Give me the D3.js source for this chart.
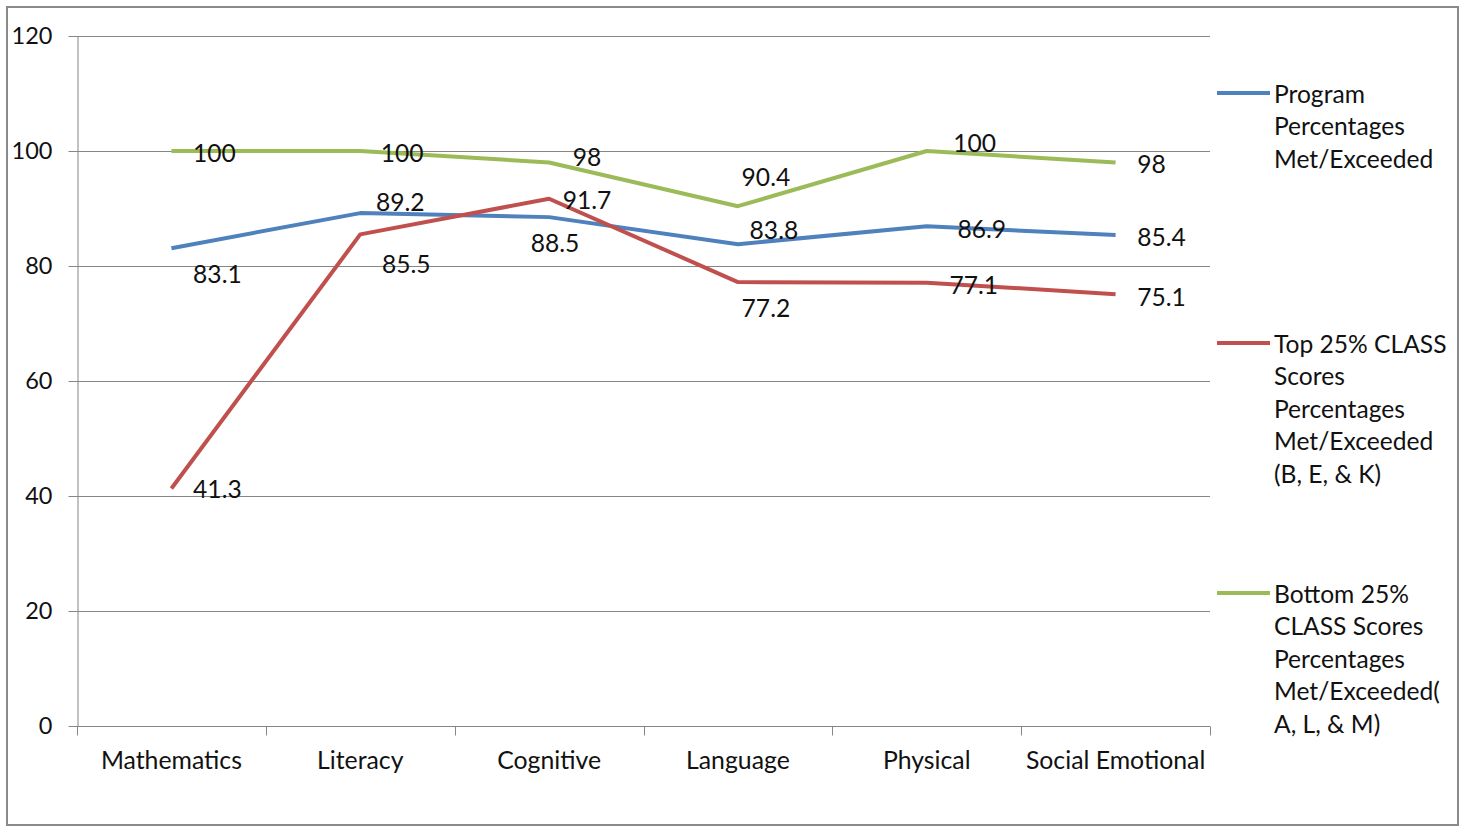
<!DOCTYPE html>
<html>
<head>
<meta charset="utf-8">
<script src="https://cdnjs.cloudflare.com/ajax/libs/d3/7.8.5/d3.min.js"></script>
<style>
  html, body { margin: 0; padding: 0; background: #fff; }
  svg { display: block; }
  text { font-family: Lato, "Open Sans", sans-serif; fill: #111; }
</style>
</head>
<body>
<svg id="chart" width="1463" height="827"></svg>
<script>
// Domains rated in the review
const categories = ["Mathematics", "Literacy", "Cognitive", "Language", "Physical", "Social Emotional"];

// Percentages met/exceeded per domain
const programValues = [83.1, 89.2, 88.5, 83.8, 86.9, 85.4];
const top25Values = [41.3, 85.5, 91.7, 77.2, 77.1, 75.1];
const bottom25Values = [100, 100, 98, 90.4, 100, 98];

const yTicks = [0, 20, 40, 60, 80, 100, 120];

const seriesNames = [
  ["Program", "Percentages", "Met/Exceeded"],
  ["Top 25% CLASS", "Scores", "Percentages", "Met/Exceeded", "(B, E, & K)"],
  ["Bottom 25%", "CLASS Scores", "Percentages", "Met/Exceeded(", "A, L, & M)"]
];
const seriesColors = ["#4F81BD", "#C0504D", "#9BBB59"];

// Data-label nudges (dx, dy from each point) so labels don't collide
const programLabelOffsets = [[46, 25], [40, -12], [6, 25], [36, -15], [55, 2], [46, 2]];
const top25LabelOffsets = [[46, 0], [46, 29], [38, 1], [28, 25], [47, 2], [46, 2]];
const bottom25LabelOffsets = [[43, 1], [42, 1], [38, -6], [28, -30], [48, -9], [36, 1]];

const series = [
  { name: seriesNames[0], values: programValues, color: seriesColors[0], offsets: programLabelOffsets },
  { name: seriesNames[1], values: top25Values, color: seriesColors[1], offsets: top25LabelOffsets },
  { name: seriesNames[2], values: bottom25Values, color: seriesColors[2], offsets: bottom25LabelOffsets }
];

const fontSize = "24.6px";
const svg = d3.select("#chart");
const plot = { left: 77, right: 1210, top: 36, bottom: 726 };
const gray = "#868686";

// outer frame
svg.append("rect")
  .attr("x", 7).attr("y", 7).attr("width", 1451).attr("height", 818)
  .attr("fill", "#fff").attr("stroke", "#8a8a8a").attr("stroke-width", 2);

const x = d3.scaleBand().domain(categories).range([plot.left, plot.right]).padding(0);
const y = d3.scaleLinear().domain([0, 120]).range([plot.bottom, plot.top]);
const cx = c => x(c) + x.bandwidth() / 2;

// horizontal gridlines
svg.append("g").selectAll("line").data(yTicks.filter(t => t > 0)).join("line")
  .attr("x1", plot.left).attr("x2", plot.right)
  .attr("y1", d => Math.round(y(d)) + 0.5).attr("y2", d => Math.round(y(d)) + 0.5)
  .attr("stroke", gray).attr("stroke-width", 1);

// y axis
const yAxis = svg.append("g")
  .attr("transform", `translate(${plot.left + 0.5},0)`)
  .call(d3.axisLeft(y).tickValues(yTicks).tickSize(9).tickSizeOuter(0).tickPadding(16));
yAxis.select(".domain").attr("stroke", gray);
yAxis.selectAll(".tick line").attr("stroke", gray);
yAxis.selectAll(".tick text").style("font-size", "23.5px").attr("fill", "#111")
  .style("font-family", "Lato, sans-serif");

// x axis: ticks sit on category boundaries
const xAxisG = svg.append("g").attr("transform", `translate(0,${Math.round(plot.bottom) + 0.5})`);
xAxisG.append("line").attr("x1", plot.left).attr("x2", plot.right).attr("stroke", gray);
const bounds = categories.map(c => x(c)).concat([plot.right]);
xAxisG.selectAll("line.tk").data(bounds).join("line").attr("class", "tk")
  .attr("x1", d => Math.round(d) + 0.5).attr("x2", d => Math.round(d) + 0.5)
  .attr("y1", 0).attr("y2", 9).attr("stroke", gray);
xAxisG.selectAll("text").data(categories).join("text")
  .attr("x", d => cx(d)).attr("y", 36)
  .attr("text-anchor", "middle").attr("dominant-baseline", "middle")
  .style("font-size", "24.8px").text(d => d);

// series lines
const line = d3.line().x((d, i) => cx(categories[i])).y(d => y(d));
series.forEach(s => {
  svg.append("path").datum(s.values)
    .attr("d", line).attr("fill", "none")
    .attr("stroke", s.color).attr("stroke-width", 4)
    .attr("stroke-linejoin", "round");
});

// data labels
series.forEach(s => {
  svg.append("g").selectAll("text").data(s.values).join("text")
    .attr("x", (d, i) => cx(categories[i]) + s.offsets[i][0])
    .attr("y", (d, i) => y(d) + s.offsets[i][1])
    .attr("text-anchor", "middle").attr("dominant-baseline", "central")
    .style("font-size", fontSize).text(d => d);
});

// legend
const legendTop = [93, 343, 593];
series.forEach((s, k) => {
  const g = svg.append("g");
  g.append("line")
    .attr("x1", 1217).attr("x2", 1270)
    .attr("y1", legendTop[k]).attr("y2", legendTop[k])
    .attr("stroke", s.color).attr("stroke-width", 4);
  g.selectAll("text").data(s.name).join("text")
    .attr("x", 1274).attr("y", (d, i) => legendTop[k] + i * 32.6)
    .attr("dominant-baseline", "central")
    .style("font-size", fontSize).text(d => d);
});
</script>
</body>
</html>
